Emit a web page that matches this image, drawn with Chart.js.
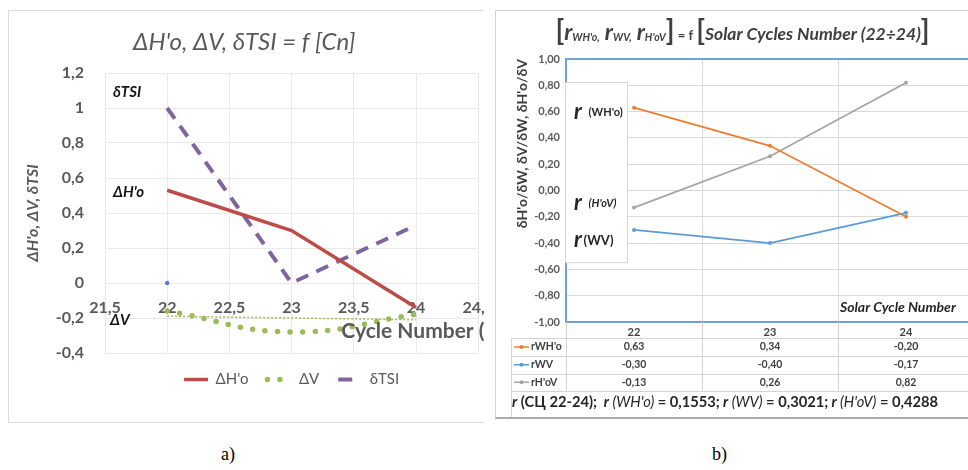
<!DOCTYPE html>
<html>
<head>
<meta charset="utf-8">
<script src="https://cdn.jsdelivr.net/npm/chart.js@4.4.1/dist/chart.umd.min.js"></script>
<style>
  html, body { margin: 0; padding: 0; background: #fff; }
  body { width: 968px; height: 470px; position: relative; overflow: hidden; }
  .panel { position: absolute; overflow: hidden; background: #fff; box-sizing: border-box; }
  #pa { left: 8px; top: 10px; width: 476px; height: 413px; border: 1px solid #dcdcdc; border-right: none; }
  #pb { left: 495px; top: 10px; width: 473px; height: 409px; border: 1px solid #d0d0d0; border-right: none; border-bottom: 2px solid #ababab; }
  .panel canvas { position: absolute; left: 0; top: 0; }
  .cap { position: absolute; top: 444px; font-family: 'Liberation Serif', serif; font-size: 18px; color: #000; }
</style>
</head>
<body>
<div id="pa" class="panel"><canvas id="ca" width="500" height="411"></canvas></div>
<div id="pb" class="panel"><canvas id="cb" width="520" height="406"></canvas></div>
<div class="cap" style="left:221px">a)</div>
<div class="cap" style="left:712px">b)</div>

<script>
// ---- chart (a): deviations per solar cycle ----
const cycles = [22, 23, 24];
const dHo   = [0.53, 0.30, -0.14];
const dV    = [-0.16, -0.28, -0.18];
const dTSI  = [1.00, 0.00, 0.33];
const dVTrendCycles = [22, 24];
const dVTrend = [-0.19, -0.21];
const markCycles = [22];
const markValues = [0];

// ---- chart (b): correlation coefficients per solar cycle ----
const cyclesB = ['22', '23', '24'];
const rWHo = [0.63, 0.34, -0.20];
const rWV  = [-0.30, -0.40, -0.17];
const rHoV = [-0.13, 0.26, 0.82];
const totalNames = ["WH'o", 'WV', "H'oV"];
const totalR = [0.1553, 0.3021, 0.4288];

const FAM = "Lato, 'Open Sans', 'Noto Sans', sans-serif";
Chart.defaults.font.family = FAM;

const comma = (v, d) => {
  if (Math.abs(v) < 1e-9) v = 0;
  return (d === undefined ? String(Math.round(v * 10) / 10) : v.toFixed(d)).replace('.', ',');
};
const pts = (xs, ys) => xs.map((x, i) => ({ x: x, y: ys[i] }));

function drawRich(ctx, parts, x, y) {
  for (const p of parts) {
    ctx.font = p.f;
    ctx.fillText(p.t, x, y + (p.dy || 0));
    x += ctx.measureText(p.t).width;
  }
  return x;
}
function richWidth(ctx, parts) {
  let w = 0;
  for (const p of parts) { ctx.font = p.f; w += ctx.measureText(p.t).width; }
  return w;
}

// series names and axis caption written inside plot (a)
const tagsA = {
  id: 'tagsA',
  afterDatasetsDraw(chart) {
    const { ctx, chartArea: a, scales: { x, y } } = chart;
    ctx.save();
    ctx.textBaseline = 'middle';
    ctx.textAlign = 'left';
    ctx.font = `italic bold 15px ${FAM}`;
    ctx.fillStyle = '#141414';
    ctx.fillText('δTSI', a.left + 8, y.getPixelForValue(dTSI[0]) - 16);
    ctx.fillText("ΔH'o", a.left + 8, y.getPixelForValue(dHo[0]) + 2);
    ctx.fillText('ΔV', a.left + 5, y.getPixelForValue(dV[0]) + 9);
    ctx.font = `bold 21px ${FAM}`;
    ctx.fillStyle = '#595959';
    ctx.fillText('Cycle Number (Cn)', x.getPixelForValue(23.4), y.getPixelForValue(-0.275));
    ctx.restore();
  }
};

// legend samples keep each series' stroke pattern
const legendItemsA = chart =>
  Chart.defaults.plugins.legend.labels.generateLabels(chart).map(it => {
    const ds = chart.data.datasets[it.datasetIndex];
    it.lineDash = ds.legendDash || ds.borderDash || [];
    it.lineCap = ds.borderCapStyle || 'butt';
    it.lineWidth = ds.borderWidth;
    it.strokeStyle = ds.borderColor;
    return it;
  });

new Chart(document.getElementById('ca'), {
  type: 'line',
  data: {
    datasets: [
      { label: "ΔH'o", data: pts(cycles, dHo), borderColor: '#BE4B48', backgroundColor: '#BE4B48',
        borderWidth: 3.5, pointRadius: 0, tension: 0 },
      { label: 'ΔV', data: pts(cycles, dV), borderColor: '#9BBB59', backgroundColor: '#9BBB59',
        borderWidth: 5.5, borderDash: [0, 12.5], borderCapStyle: 'round', pointRadius: 0, tension: 0.45 },
      { label: 'δTSI', data: pts(cycles, dTSI), borderColor: '#8064A2', backgroundColor: '#8064A2',
        borderWidth: 4, borderDash: [13, 9], legendDash: [14, 30], pointRadius: 0, tension: 0 },
      { label: 'trend', data: pts(dVTrendCycles, dVTrend), borderColor: '#9BBB59',
        borderWidth: 1.5, borderDash: [2, 2], pointRadius: 0 },
      { label: 'mark', data: pts(markCycles, markValues), showLine: false, pointRadius: 2.2,
        pointBackgroundColor: '#4F81BD', pointBorderWidth: 0 }
    ]
  },
  options: {
    responsive: false,
    animation: false,
    layout: { padding: { left: 0, right: 29.5, top: 0, bottom: 25 } },
    plugins: {
      title: { display: true, text: "ΔH'o, ΔV, δTSI = f [Cn]", color: '#595959',
        font: { size: 24, style: 'italic', weight: 'normal' }, padding: { top: 16.6, bottom: 16.6 } },
      legend: {
        position: 'bottom', fullSize: false,
        labels: {
          generateLabels: legendItemsA,
          filter: item => item.datasetIndex < 3,
          usePointStyle: true, pointStyle: 'line', pointStyleWidth: 24,
          color: '#595959', font: { size: 15 }, padding: 19
        }
      },
      tooltip: { enabled: false }
    },
    scales: {
      x: {
        type: 'linear', min: 21.5, max: 24.5, position: { y: 0 },
        ticks: { stepSize: 0.5, callback: v => comma(v), color: '#595959',
          font: { size: 16, weight: 'bold' }, padding: 15 },
        grid: { color: '#e9e9e9', drawTicks: false },
        border: { display: false }
      },
      y: {
        min: -0.4, max: 1.2,
        ticks: { stepSize: 0.2, callback: v => comma(v), color: '#595959',
          font: { size: 16, weight: 'bold' }, padding: 21 },
        grid: { color: '#e9e9e9', drawTicks: false },
        border: { display: false },
        title: { display: true, text: "ΔH'o, ΔV, δTSI", color: '#595959',
          font: { size: 16, weight: 'bold', style: 'italic' }, padding: { top: 14, bottom: 0 } },
        afterFit: s => { s.width = 96; }
      }
    }
  },
  plugins: [tagsA]
});

// ---- chart (b) decorations ----
const seriesB = [
  { key: "rWH'o", data: rWHo, color: '#ED7D31', tag: '(WH\'o)', tagFont: `bold 11px ${FAM}`, dy: 4 },
  { key: 'rWV', data: rWV, color: '#5B9BD5', tag: '(WV)', tagFont: `bold 13px ${FAM}`, dy: 10 },
  { key: "rH'oV", data: rHoV, color: '#A5A5A5', tag: "(H'oV)", tagFont: `italic bold 11px ${FAM}`, dy: -5 }
];

const decorB = {
  id: 'decorB',
  beforeDatasetsDraw(chart) {
    const { ctx, chartArea: a, scales: { y } } = chart;
    ctx.save();
    // key panel laid over the left part of the plot
    const top = y.getPixelForValue(0.825), bot = y.getPixelForValue(-0.545);
    ctx.fillStyle = '#fff';
    ctx.fillRect(a.left - 1, top, 63, bot - top);
    ctx.strokeStyle = '#d6d6d6';
    ctx.lineWidth = 1;
    ctx.strokeRect(a.left - 0.5, top + 0.5, 62, bot - top);
    ctx.textBaseline = 'middle';
    ctx.fillStyle = '#262626';
    for (const s of seriesB) {
      const yy = y.getPixelForValue(s.data[0]) + s.dy;
      ctx.font = `italic bold 22px ${FAM}`;
      ctx.fillText('r', a.left + 8, yy);
      const w = ctx.measureText('r ').width;
      ctx.font = s.tagFont;
      ctx.fillText(s.tag, a.left + 8 + w + (s.key === 'rWV' ? -3 : 2), yy + 1);
    }
    ctx.restore();
  },
  afterDraw(chart) {
    const { ctx, chartArea: a, scales: { x } } = chart;
    ctx.save();
    // axis caption inside the plot
    const n = cyclesB.length;
    const bounds = [a.left];
    for (let i = 0; i < n - 1; i++) bounds.push((x.getPixelForValue(i) + x.getPixelForValue(i + 1)) / 2);
    bounds.push(a.right);
    ctx.font = `italic bold 14px ${FAM}`;
    ctx.fillStyle = '#262626';
    ctx.textBaseline = 'middle';
    ctx.fillText('Solar Cycle Number', bounds[n - 1] + 2, a.bottom - 15);

    // data table under the plot
    const tLeft = 15;
    const headB = a.bottom + 16;
    const rows = [headB, headB + 18, headB + 35.5, headB + 53];
    ctx.strokeStyle = '#d4d4d4';
    ctx.lineWidth = 1;
    ctx.beginPath();
    for (const ry of rows) { ctx.moveTo(tLeft, Math.round(ry) + 0.5); ctx.lineTo(a.right, Math.round(ry) + 0.5); }
    for (const bx of bounds) { ctx.moveTo(Math.round(bx) + 0.5, a.bottom); ctx.lineTo(Math.round(bx) + 0.5, rows[3]); }
    ctx.moveTo(tLeft + 0.5, headB); ctx.lineTo(tLeft + 0.5, chart.height);
    ctx.stroke();

    ctx.textBaseline = 'middle';
    seriesB.forEach((s, r) => {
      const cy = (rows[r] + rows[r + 1]) / 2;
      ctx.strokeStyle = s.color; ctx.lineWidth = 1.5;
      ctx.beginPath(); ctx.moveTo(tLeft + 3, cy); ctx.lineTo(tLeft + 18, cy); ctx.stroke();
      ctx.fillStyle = s.color;
      ctx.beginPath(); ctx.arc(tLeft + 10.5, cy, 2, 0, Math.PI * 2); ctx.fill();
      ctx.fillStyle = '#404040';
      ctx.font = `bold 10.5px ${FAM}`;
      ctx.textAlign = 'left';
      ctx.fillText(s.key, tLeft + 20, cy);
      ctx.textAlign = 'center';
      s.data.forEach((v, i) => ctx.fillText(comma(v, 2), x.getPixelForValue(i), cy));
    });

    // whole-interval coefficients
    ctx.textAlign = 'left';
    ctx.textBaseline = 'alphabetic';
    ctx.fillStyle = '#262626';
    const bi = `italic bold 14.7px ${FAM}`, b = `bold 14.7px ${FAM}`, it = `italic 14.7px ${FAM}`;
    const parts = [{ t: 'r', f: bi }, { t: ' (СЦ 22-24); ', f: b }];
    totalNames.forEach((nm, i) => {
      parts.push({ t: ' r', f: bi }, { t: ' (' + nm + ')', f: it },
                 { t: ' = ' + comma(totalR[i], 4) + (i < totalNames.length - 1 ? ';' : ''), f: b });
    });
    drawRich(ctx, parts, tLeft + 1, rows[3] + 16);

    // chart heading with subscripted symbols
    const br = `bold 28px ${FAM}`, rr = `italic bold 23px ${FAM}`, sub = `italic bold 10.5px ${FAM}`;
    const head = [
      { t: '[', f: br }, { t: 'r', f: rr }, { t: "WH'o,", f: sub, dy: 1 },
      { t: ' r', f: rr }, { t: 'WV,', f: sub, dy: 1 },
      { t: ' r', f: rr }, { t: "H'oV", f: sub, dy: 1 },
      { t: ']', f: br }, { t: ' = f ', f: `bold 13px ${FAM}` }, { t: '[', f: br },
      { t: 'Solar Cycles Number (22÷24)', f: `italic bold 17.5px ${FAM}` }, { t: ']', f: br }
    ];
    ctx.fillStyle = '#404040';
    const hw = richWidth(ctx, head);
    drawRich(ctx, head, 246.5 - hw / 2, 29);
    ctx.restore();
  }
};

new Chart(document.getElementById('cb'), {
  type: 'line',
  data: {
    labels: cyclesB,
    datasets: seriesB.map(s => ({
      label: s.key, data: s.data, borderColor: s.color, backgroundColor: s.color,
      borderWidth: 1.75, pointRadius: 2, pointBorderWidth: 0, tension: 0
    }))
  },
  options: {
    responsive: false,
    animation: false,
    layout: { padding: { left: 0, right: 42, top: 48, bottom: 0 } },
    plugins: { legend: { display: false }, title: { display: false }, tooltip: { enabled: false } },
    scales: {
      x: {
        offset: true,
        grid: { offset: true, color: '#d9d9d9', drawTicks: false },
        border: { display: false },
        ticks: { color: '#404040', font: { size: 11, weight: 'bold' }, padding: 4 },
        afterFit: s => { s.height = 406 - 311; }
      },
      y: {
        min: -1, max: 1,
        ticks: { stepSize: 0.2, callback: v => comma(v, 2), color: '#595959',
          font: { size: 11, weight: 'bold' }, padding: 6 },
        grid: {
          color: c => (c.tick && Math.abs(Math.abs(c.tick.value) - 1) < 1e-6) ? '#6FA3D8' : '#d9d9d9',
          lineWidth: c => (c.tick && Math.abs(Math.abs(c.tick.value) - 1) < 1e-6) ? 2 : 1,
          drawTicks: false
        },
        border: { color: '#6FA3D8', width: 2 },
        title: { display: true, text: "δH'o/δW, δV/δW, δH'o/δV", align: 'end', color: '#404040',
          font: { size: 14, weight: 'bold' }, padding: { top: 18, bottom: 0 } },
        afterFit: s => { s.width = 70; }
      }
    }
  },
  plugins: [decorB]
});
</script>
</body>
</html>
